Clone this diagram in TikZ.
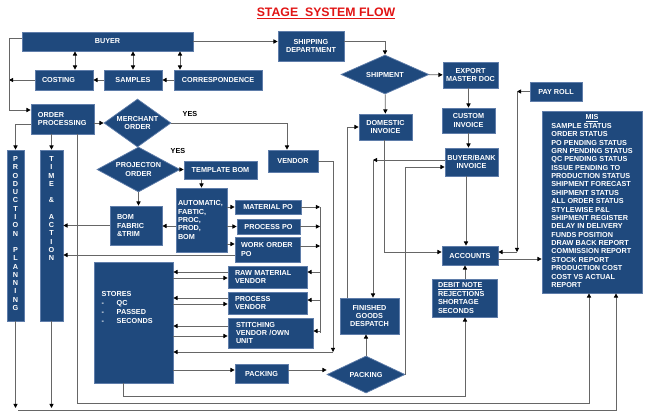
\documentclass[tikz,border=0pt]{standalone}
\usepackage{fontspec}
\setmainfont{Liberation Sans}
\usetikzlibrary{shapes.geometric,arrows.meta}

\def\pxl{0.03cm}

\begin{document}
\begin{tikzpicture}[x=0.03cm,y=-0.03cm,>={Triangle[length=3.6pt,width=3.6pt,color=black]}]
  % Local definitions
  \def\flowfont{\fontsize{6.2}{7.15}\selectfont\bfseries}

  % Colors
  \definecolor{blockfill}{RGB}{31,73,125}
  \definecolor{blockedge}{RGB}{95,125,170}
  \colorlet{linkcolor}{black!60}
  \definecolor{titlecolor}{RGB}{225,20,20}

  % Styles
  \tikzstyle{block}=[draw=blockedge,fill=blockfill,line width=0.6pt,text=white,font=\flowfont,inner sep=0pt,align=center]
  \tikzstyle{decision}=[block,shape=diamond,aspect=1.6]
  \tikzstyle{link}=[draw=linkcolor,line width=0.7pt]
  \tikzstyle{vletter}=[text=white,font=\flowfont,inner sep=0pt]

  \useasboundingbox (0,0) rectangle (650,416);

  % Title
  \node[font=\fontsize{10.5}{12}\selectfont\bfseries,text=titlecolor] (title) at (326,13) {\underline{STAGE\ \ SYSTEM FLOW}};

  % Buyer and order side
  \node[block,minimum width=171*\pxl,minimum height=19*\pxl] (buyer) at (107.5,41.5) {BUYER};
  \node[block,minimum width=58*\pxl,minimum height=20*\pxl,text width=1.32cm,align=left] (costing) at (64,80) {COSTING};
  \node[block,minimum width=58*\pxl,minimum height=20*\pxl] (samples) at (133,80) {SAMPLES};
  \node[block,minimum width=88*\pxl,minimum height=20*\pxl] (corresp) at (218,80) {CORRESPONDENCE};
  \node[block,minimum width=63*\pxl,minimum height=30*\pxl,text width=1.47cm,align=left] (orderproc) at (62.5,119) {ORDER\\PROCESSING};
  \node[decision,minimum width=67*\pxl,minimum height=48*\pxl] (merchant) at (137.5,123) {MERCHANT\\ORDER};
  \node[decision,minimum width=83*\pxl,minimum height=45*\pxl] (projection) at (138.5,169.5) {PROJECTON\\ORDER};
  \node[font=\flowfont] (yes1) at (190,114) {YES};
  \node[font=\flowfont] (yes2) at (178,151) {YES};
  \node[block,minimum width=50*\pxl,minimum height=22*\pxl] (vendor) at (293,161) {VENDOR};
  \node[block,minimum width=73*\pxl,minimum height=18*\pxl] (template) at (220.5,170) {TEMPLATE BOM};
  \node[block,minimum width=51*\pxl,minimum height=64*\pxl,text width=1.41cm,align=left] (automatic) at (201.5,220) {AUTOMATIC,\\FABTIC,\\PROC,\\PROD,\\BOM};
  \node[block,minimum width=52*\pxl,minimum height=39*\pxl,text width=1.14cm,align=left] (bom) at (136,225.5) {BOM\\FABRIC\\\&TRIM};
  \node[block,minimum width=66*\pxl,minimum height=14*\pxl] (materialpo) at (268,207) {MATERIAL PO};
  \node[block,minimum width=63*\pxl,minimum height=15*\pxl] (processpo) at (268.5,226.5) {PROCESS PO};
  \node[block,minimum width=65*\pxl,minimum height=25*\pxl,text width=1.59cm,align=left] (workpo) at (267.5,249.5) {WORK ORDER\\PO};

  % Planning columns
  \node[block,minimum width=17*\pxl,minimum height=171*\pxl] (planning) at (15.5,235.5) {};
  \node[block,minimum width=23*\pxl,minimum height=171*\pxl] (timeaction) at (51.5,235.5) {};
  \foreach \ch [count=\i from 0] in {P,R,O,D,U,C,T,I,O,N,{},P,L,A,N,N,I,N,G}
    \node[vletter] (planning-\i) at (15.5,{159+8.28*\i}) {\ch};
  \foreach \ch [count=\i from 0] in {T,I,M,E,{},\&,{},A,C,T,I,O,N}
    \node[vletter] (timeaction-\i) at (51.5,{159+8.25*\i}) {\ch};

  % Stores and vendors
  \node[block,minimum width=79*\pxl,minimum height=121*\pxl] (stores) at (133.5,322.5) {};
  \node[vletter,anchor=north west,align=left,font=\fontsize{6.2}{7.65}\selectfont\bfseries] (storestext) at (101.5,291)
    {STORES\\\makebox[0.45cm][l]{-}QC\\\makebox[0.45cm][l]{-}PASSED\\\makebox[0.45cm][l]{-}SECONDS};
  \node[block,minimum width=79*\pxl,minimum height=22*\pxl,text width=1.95cm,align=left] (rawvendor) at (267.5,277) {RAW MATERIAL\\VENDOR};
  \node[block,minimum width=79*\pxl,minimum height=22*\pxl,text width=1.95cm,align=left] (procvendor) at (267.5,303) {PROCESS\\VENDOR};
  \node[block,minimum width=85*\pxl,minimum height=30*\pxl,text width=2.07cm,align=left] (stitching) at (270.5,333) {STITCHING\\VENDOR /OWN\\UNIT};
  \node[block,minimum width=53*\pxl,minimum height=19*\pxl] (packing) at (261.5,373.5) {PACKING};
  \node[decision,minimum width=78*\pxl,minimum height=37*\pxl] (packdia) at (366,374.5) {PACKING};
  \node[block,minimum width=59*\pxl,minimum height=36*\pxl] (finished) at (369.5,316) {FINISHED\\GOODS\\DESPATCH};

  % Shipping and accounts side
  \node[block,minimum width=66*\pxl,minimum height=30*\pxl] (shipping) at (311,46) {SHIPPING\\DEPARTMENT};
  \node[decision,minimum width=88*\pxl,minimum height=39*\pxl] (shipment) at (385,74.5) {SHIPMENT};
  \node[block,minimum width=55*\pxl,minimum height=26*\pxl] (export) at (470.5,75) {EXPORT\\MASTER DOC};
  \node[block,minimum width=53*\pxl,minimum height=26*\pxl] (domestic) at (385.5,127) {DOMESTIC\\INVOICE};
  \node[block,minimum width=53*\pxl,minimum height=25*\pxl] (custom) at (468.5,120.5) {CUSTOM\\INVOICE};
  \node[block,minimum width=53*\pxl,minimum height=28*\pxl] (bbank) at (471.5,162) {BUYER/BANK\\INVOICE};
  \node[block,minimum width=56*\pxl,minimum height=19*\pxl] (accounts) at (470,255.5) {ACCOUNTS};
  \node[block,minimum width=65*\pxl,minimum height=38*\pxl,text width=1.59cm,align=left] (debit) at (464.5,298) {\underline{DEBIT NOTE}\\REJECTIONS\\SHORTAGE\\SECONDS};
  \node[block,minimum width=52*\pxl,minimum height=19*\pxl] (payroll) at (556,91.5) {PAY ROLL};
  \node[block,minimum width=100*\pxl,minimum height=182*\pxl] (mis) at (592,202) {\begin{tabular}{@{}l@{}}
    \multicolumn{1}{@{}c@{}}{\underline{MIS}}\\
    SAMPLE STATUS\\ORDER STATUS\\PO PENDING STATUS\\GRN PENDING STATUS\\
    QC PENDING STATUS\\ISSUE PENDING TO\\PRODUCTION STATUS\\SHIPMENT FORECAST\\
    SHIPMENT STATUS\\ALL ORDER STATUS\\STYLEWISE P\&L\\SHIPMENT REGISTER\\
    DELAY IN DELIVERY\\FUNDS POSITION\\DRAW BACK REPORT\\COMMISSION REPORT\\
    STOCK REPORT\\PRODUCTION COST\\COST VS ACTUAL\\REPORT
  \end{tabular}};

  % Turning points
  \coordinate (leftbus) at (9,0);
  \coordinate (pobus) at (320,0);
  \coordinate (vdrop) at (333,352);
  \coordinate (bbturn) at (373,160);
  \coordinate (prturn) at (517,252);
  \coordinate (planbus) at (18,410);

  % Buyer connectors
  \draw[link,<->] (buyer.south -| 75,0) -- (costing.north -| 75,0);
  \draw[link,<->] (buyer.south -| samples.north) -- (samples.north);
  \draw[link,<->] (buyer.south -| 180,0) -- (corresp.north -| 180,0);
  \draw[link,->] (corresp) -- (samples);
  \draw[link,->] (samples) -- (costing);
  \draw[link,->] (costing.west) -- (costing.west -| leftbus);
  \draw[link,->] (buyer.west |- 0,38) -| (9,110) -- (orderproc.west |- 0,110);
  \draw[link,->] (buyer.east) -- (buyer.east -| shipping.west);

  % Order connectors
  \draw[link,->] (orderproc.west |- 0,124) -| (planning.north);
  \draw[link,->] (orderproc.south -| timeaction.north) -- (timeaction.north);
  \draw[link,->] (orderproc.east |- merchant) -- (merchant.west);
  \draw[link,->] (merchant.east) -| (vendor.north -| 287,0);
  \draw[link,->] (projection.east) -- (template.west |- projection.east);
  \draw[link,->] (projection.south) -- (projection.south |- bom.north);
  \draw[link,->] (template.south -| automatic.north) -- (automatic.north);
  \draw[link,->] (automatic.east |- materialpo) -- (materialpo.west);
  \draw[link,->] (automatic.east |- processpo) -- (processpo.west);
  \draw[link,->] (automatic.east |- 0,244) -- (workpo.west |- 0,244);
  \draw[link,->] (automatic.west |- 0,226) -- (bom.east |- 0,226);
  \draw[link,->] (bom.west) -- (bom.west -| timeaction.east);
  \draw[link,->] (workpo.west |- 0,255) -- (timeaction.east |- 0,255);

  % PO bus and vendors
  \draw[link] (materialpo.east -| pobus) -- (stitching.east -| pobus);
  \draw[link,->] (materialpo.east) -- (materialpo.east -| pobus);
  \draw[link,->] (processpo.east) -- (processpo.east -| pobus);
  \draw[link,->] (workpo.east |- 0,246) -- (pobus |- 0,246);
  \draw[link,->] (pobus |- 0,272) -- (rawvendor.east |- 0,272);
  \draw[link,->] (pobus |- 0,300) -- (procvendor.east |- 0,300);
  \draw[link,->] (pobus |- 0,331) -- (stitching.east |- 0,331);
  \draw[link,->] (vendor.east) -| (vdrop);
  \draw[link,->] (vdrop) -- (stores.east |- vdrop);
  \draw[link,->] (rawvendor.west |- 0,272) -- (stores.east |- 0,272);
  \draw[link,->] (stores.east |- 0,278) -- (rawvendor.west |- 0,278);
  \draw[link,->] (procvendor.west |- 0,298) -- (stores.east |- 0,298);
  \draw[link,->] (stores.east |- 0,304) -- (procvendor.west |- 0,304);
  \draw[link,->] (stitching.west |- 0,326) -- (stores.east |- 0,326);
  \draw[link,->] (stores.east |- 0,336) -- (stitching.west |- 0,336);
  \draw[link,->] (stores.east |- 0,370) -- (packing.west |- 0,370);
  \draw[link,->] (packing.east |- 0,370) -- (packdia.west |- 0,370);
  \draw[link,->] (packdia.north) -- (packdia.north |- finished.south);

  % Shipping connectors
  \draw[link,->] (shipping.east |- buyer.east) -| (shipment.north);
  \draw[link,->] (shipment) -- (export);
  \draw[link,->] (shipment) -- (domestic);
  \draw[link,->] (export.south -| custom.north) -- (custom.north);
  \draw[link,->] (custom.south) -- (custom.south |- bbank.north);
  \draw[link,->] (bbank.south -| 466,0) -- (accounts.north -| 466,0);
  \draw[link,->] (domestic.south -| 384,0) |- (accounts.west |- 0,252);
  \draw[link,->] (finished.north -| 347,0) |- (domestic.west);
  \draw[link,->] (bbank.west |- bbturn) -- (bbturn);
  \draw[link,->] (bbturn) -- (finished.north -| bbturn);
  \draw[link,->] (packdia.east) |- (bbank.west |- 0,167);
  \draw[link,->] (payroll.west) -- (payroll.west -| prturn);
  \draw[link,->] (payroll.west -| prturn) -- (prturn);
  \draw[link,->] (prturn) -- (accounts.east |- prturn);
  \draw[link,->] (accounts.east |- 0,259) -- (mis.west |- 0,259);
  \draw[link,->] (debit.north -| 465,0) -- (accounts.south -| 465,0);

  % Bottom lines
  \draw[link,->] (stores.south -| 123,0) -- (123,396) -| (debit.south -| 465,0);
  \draw[link,->] (orderproc.south -| 77,0) -- (77,403) -| (mis.south -| 589,0);
  \draw[link,->] (planning.south) -- (planning.south |- 0,408);
  \draw[link,->] (timeaction.south) -- (timeaction.south |- 0,408);
  \draw[link,->] (planbus) -| (mis.south -| 616,0);
\end{tikzpicture}
\end{document}
